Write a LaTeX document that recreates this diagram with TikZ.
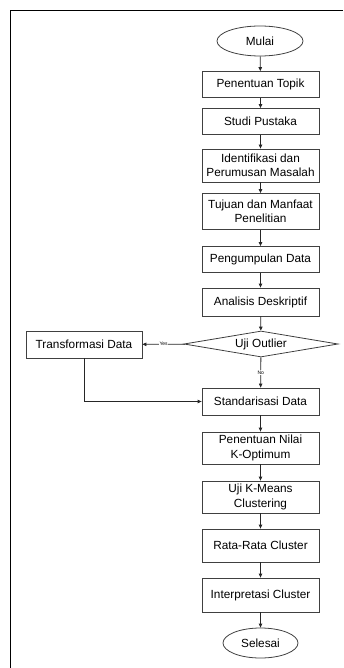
\documentclass[tikz,border=0pt]{standalone}
\usepackage{fontspec}
\setmainfont{Liberation Sans}
\usetikzlibrary{shapes.geometric,arrows.meta}
\tikzset{
    box/.style={draw=black!75, line width=0.8pt, align=center, minimum width=117pt, minimum height=26pt, inner ysep=2pt, font=\fontsize{11.8}{14.5}\selectfont},
    terminal/.style={draw=black!75, line width=0.8pt, ellipse, inner sep=0pt, font=\fontsize{11.8}{14.5}\selectfont},
    decision/.style={draw=black!75, line width=0.8pt, diamond, aspect=6, inner sep=0pt, minimum width=154pt, minimum height=26pt, font=\fontsize{11.8}{14.5}\selectfont},
    arr/.style={draw=black!85, line width=0.8pt, -{Triangle[length=4pt,width=3.5pt]}},
    tag/.style={font=\fontsize{5}{6}\selectfont, fill=white, inner sep=0.5pt}
}
\begin{document}
\begin{tikzpicture}[x=1pt,y=-1pt]
    \useasboundingbox (0,0) rectangle (343,668);
    \draw[line width=1.3pt] (10.5,668) -- (10.5,10.5) -- (343,10.5);
        \node[terminal, minimum width=86pt, minimum height=30pt] (mulai) at (260,41){Mulai};
        \node[box] (topik) at (260.5,84.5){Penentuan Topik};
        \node[box] (studi) at (260.5,121.5){Studi Pustaka};
        \node[box, minimum height=33pt] (identifikasi) at (260.5,165.5){Identifikasi dan\\Perumusan Masalah};
        \node[box, minimum height=36pt] (tujuan) at (260.5,211.5){Tujuan dan Manfaat\\Penelitian};
        \node[box] (kumpul) at (260.5,259.5){Pengumpulan Data};
        \node[box, minimum height=28pt] (analisis) at (260.5,302){Analisis Deskriptif};
        \node[decision] (outlier) at (261,344){Uji Outlier};
        \node[box, minimum width=116pt, minimum height=27pt] (transformasi) at (84,344.5){Transformasi Data};
        \node[box, minimum height=27pt] (standar) at (260.5,401.5){Standarisasi Data};
        \node[box, minimum height=32pt] (koptimum) at (260.5,448){Penentuan Nilai\\K-Optimum};
        \node[box, minimum height=32pt] (kmeans) at (260.5,497){Uji K-Means\\Clustering};
        \node[box, minimum height=33pt] (rerata) at (260.5,545.5){Rata-Rata Cluster};
        \node[box, minimum height=34pt] (interpretasi) at (260.5,595){Interpretasi Cluster};
        \node[terminal, minimum width=75pt, minimum height=30pt] (selesai) at (260.5,643){Selesai};
        \draw[arr] (mulai) -- (topik);
        \draw[arr] (topik) -- (studi);
        \draw[arr] (studi) -- (identifikasi);
        \draw[arr] (identifikasi) -- (tujuan);
        \draw[arr] (tujuan) -- (kumpul);
        \draw[arr] (kumpul) -- (analisis);
        \draw[arr] (analisis) -- (outlier);
        \draw[arr] (outlier) -- node[tag]{Yes} (transformasi);
        \draw[arr] (outlier) -- node[tag]{No} (standar);
        \draw[arr] (transformasi) |- (standar);
        \draw[arr] (standar) -- (koptimum);
        \draw[arr] (koptimum) -- (kmeans);
        \draw[arr] (kmeans) -- (rerata);
        \draw[arr] (rerata) -- (interpretasi);
        \draw[arr] (interpretasi) -- (selesai);
    \end{tikzpicture}
\end{document}
